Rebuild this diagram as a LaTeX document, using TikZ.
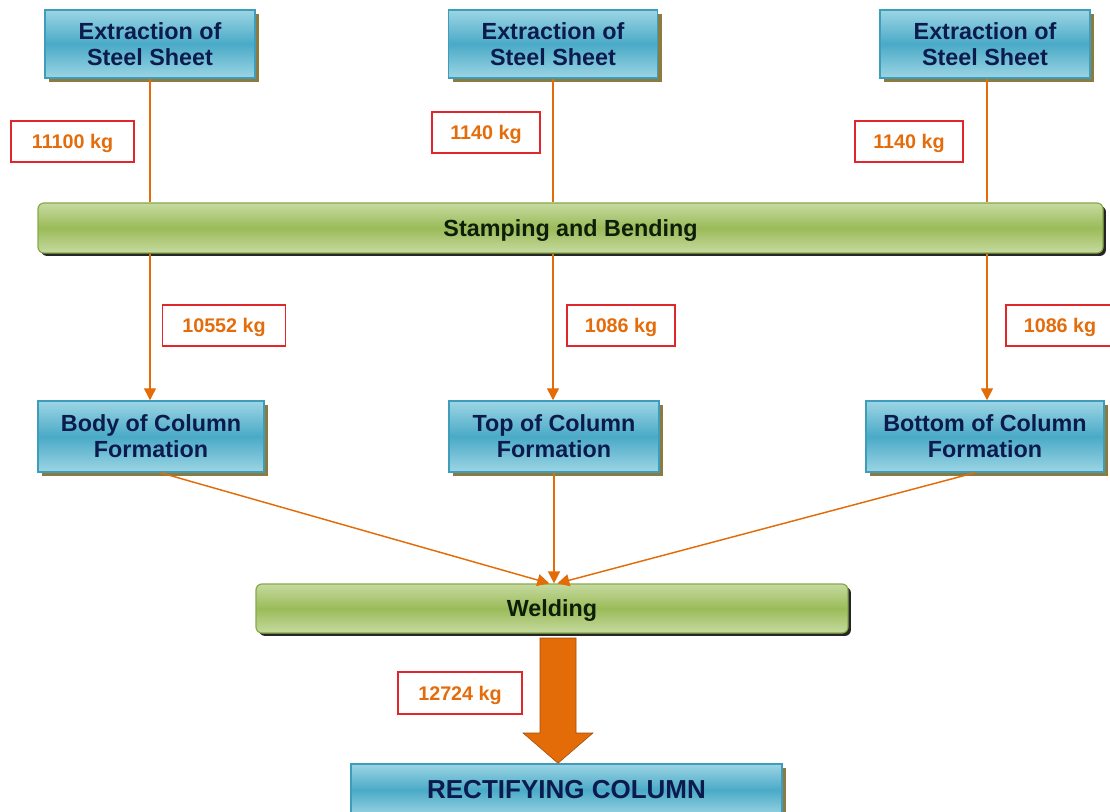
\documentclass[tikz,border=0pt]{standalone}
\usepackage{fontspec}
\setmainfont{Liberation Sans}
\usetikzlibrary{arrows.meta,shadows,calc}

\definecolor{boxtop}{HTML}{9CD5E4}
\definecolor{boxmid}{HTML}{4AAAC7}
\definecolor{boxedge}{HTML}{3E9DBB}
\definecolor{boxshadow}{HTML}{8C7B40}
\definecolor{boxtext}{HTML}{0C1B4D}
\definecolor{bartop}{HTML}{C6DAA0}
\definecolor{barmid}{HTML}{9BBB59}
\definecolor{baredge}{HTML}{86AA4A}
\definecolor{bartext}{HTML}{0D1F08}
\definecolor{flow}{HTML}{E36C09}
\definecolor{tagedge}{HTML}{E0282C}
\definecolor{tagtext}{HTML}{E46C0A}

\tikzset{
  stagebox/.style={draw=boxedge, line width=1.1pt,
    top color=boxtop, bottom color=boxtop, middle color=boxmid,
    text=boxtext, font=\bfseries\fontsize{17.5}{19.5}\selectfont,
    align=center, inner sep=0pt,
    drop shadow={shadow xshift=3pt, shadow yshift=-3pt, fill=boxshadow, opacity=1}},
  processbar/.style={draw=baredge, line width=0.9pt, rounded corners=4.5pt,
    top color=bartop, bottom color=bartop, middle color=barmid,
    text=bartext, font=\bfseries\fontsize{17.5}{19.5}\selectfont,
    inner sep=0pt, text depth=0pt,
    drop shadow={shadow xshift=2.2pt, shadow yshift=-2.2pt, fill=black!85, opacity=1}},
  masstag/.style={draw=tagedge, line width=0.9pt, fill=white,
    text=tagtext, font=\bfseries\fontsize{14.8}{16}\selectfont,
    minimum height=30.75pt, inner sep=0pt, text depth=0pt},
  flowline/.style={draw=flow, line width=1.1pt},
  flowarrow/.style={flowline, -{Triangle[width=9pt,length=9pt]}},
}

\begin{document}
\begin{tikzpicture}[x=0.75pt,y=-0.75pt]
\useasboundingbox (0,0) rectangle (1110,812);

% raw material stages
\node[stagebox, minimum width=157.5pt, minimum height=51pt] (e1) at (150,44) {Extraction of\\Steel Sheet};
\node[stagebox, minimum width=156.75pt, minimum height=51pt] (e2) at (553,44) {Extraction of\\Steel Sheet};
\node[stagebox, minimum width=157.5pt, minimum height=51pt] (e3) at (985,44) {Extraction of\\Steel Sheet};

% shared forming step
\node[processbar, minimum width=798.75pt, minimum height=37.5pt] (stamp) at (570.5,228) {Stamping and Bending};

% part formation stages
\node[stagebox, minimum width=169.5pt, minimum height=53.25pt] (body) at (151,436.5) {Body of Column\\Formation};
\node[stagebox, minimum width=157.5pt, minimum height=53.25pt] (top) at (554,436.5) {Top of Column\\Formation};
\node[stagebox, minimum width=178.5pt, minimum height=53.25pt] (bottom) at (985,436.5) {Bottom of Column\\Formation};

% assembly
\node[processbar, minimum width=444pt, minimum height=36.75pt] (weld) at (552,608.5) {Welding};

% final product
\node[stagebox, minimum width=323.25pt, minimum height=39pt, font=\bfseries\fontsize{19.5}{21}\selectfont] (rect) at (566.5,790) {RECTIFYING COLUMN};

% sheet feeds into stamping
\draw[flowline] (e1.south) -- (e1.south |- stamp.north);
\draw[flowline] (e2.south) -- (e2.south |- stamp.north);
\draw[flowline] ([xshift=1.5pt]e3.south) -- ([xshift=1.5pt]e3.south |- stamp.north);

% stamped parts to formation
\draw[flowarrow] (e1.south |- stamp.south) -- (e1.south |- body.north);
\draw[flowarrow] (e2.south |- stamp.south) -- (e2.south |- top.north);
\draw[flowarrow] ([xshift=1.5pt]e3.south |- stamp.south) -- ([xshift=1.5pt]e3.south |- bottom.north);

% formed parts to welding
\draw[flowarrow] ([xshift=7pt]body.south) -- ([xshift=-2pt]weld.north);
\draw[flowarrow] (top.south) -- (top.south |- weld.north);
\draw[flowarrow] ([xshift=-7.5pt]bottom.south) -- ([xshift=4pt]weld.north);

% welded column to final product
\coordinate (ws) at (558,638);
\coordinate (tip) at (rect.north -| ws);
\fill[flow, draw=flow!70!black, line width=0.4pt]
  ($(ws)+(-18,0)$) -- ($(ws)+(18,0)$) -- ($(ws)+(18,95)$) -- ($(ws)+(35,95)$)
  -- (tip) -- ($(ws)+(-35,95)$) -- ($(ws)+(-18,95)$) -- cycle;

% mass labels
\node[masstag, minimum width=92.25pt] (m1) at (72.5,141.5) {11100 kg};
\node[masstag, minimum width=81pt] (m2) at (486,132.5) {1140 kg};
\node[masstag, minimum width=81pt] (m3) at (909,141.5) {1140 kg};
\node[masstag, minimum width=92.25pt] (m4) at (224,325.5) {10552 kg};
\node[masstag, minimum width=81pt] (m5) at (621,325.5) {1086 kg};
\node[masstag, minimum width=81pt] (m6) at (1060,325.5) {1086 kg};
\node[masstag, minimum width=93pt, minimum height=31.5pt] (m7) at (460,693) {12724 kg};
\end{tikzpicture}
\end{document}
